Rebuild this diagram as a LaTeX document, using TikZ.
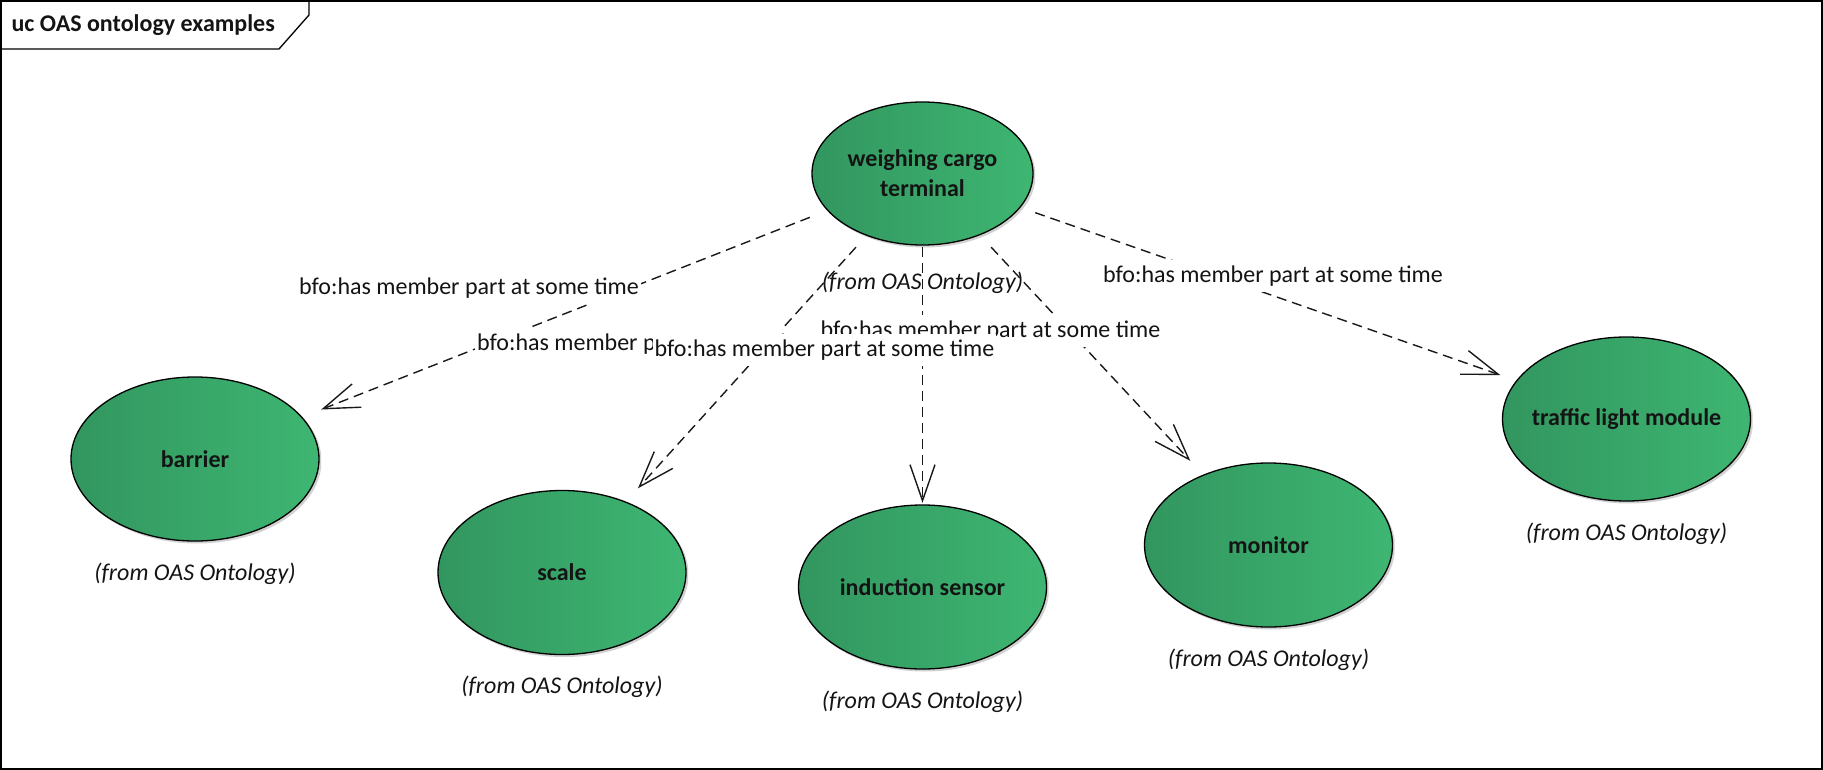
\documentclass[tikz,border=0pt]{standalone}
\usepackage{fontspec}
\setmainfont{Carlito}
\usetikzlibrary{arrows.meta,positioning}

\definecolor{ucdark}{RGB}{50,150,95}
\definecolor{uclight}{RGB}{62,182,114}
\definecolor{uctext}{RGB}{20,20,20}

\begin{document}
\begin{tikzpicture}[x=1pt, y=-1pt,
        usecase/.style 2 args={rectangle, fill=white, inner sep=0pt,
            minimum width=2*#1, minimum height=2*#2, align=center,
            font=\fontsize{24}{30}\selectfont\bfseries, text=uctext,
            path picture={
                \fill[black!18] ([shift={(2pt,-2pt)}]path picture bounding box.center)
                    ellipse [x radius=#1pt-1.5pt, y radius=#2pt-1.5pt];
                \shade[left color=ucdark, right color=uclight,
                    draw=black, line width=1.3pt]
                    (path picture bounding box.center)
                    ellipse [x radius=#1pt-2pt, y radius=#2pt-2pt];}},
        from/.style={font=\fontsize{24}{30}\selectfont\itshape, text=uctext,
            inner sep=0pt, text height=17pt, text depth=5pt},
        rel/.style={fill=white, font=\fontsize{24}{30}\selectfont, text=uctext,
            inner xsep=2pt, inner ysep=5pt, text height=17pt, text depth=5pt},
        dep/.style={draw=black!90, line width=1.4pt, dash pattern=on 10pt off 6pt,
            -{Straight Barb[length=36pt, width=25pt]}}
    ]
    \useasboundingbox (0,0) rectangle (1823,770);
    \draw[line width=1.3pt] (1,1) rectangle (1822,769);

    % frame tab
    \draw[line width=1.3pt] (0,49) -- (279,49) -- (309,15) -- (309,0);
    \node[anchor=west, font=\fontsize{24}{30}\selectfont\bfseries, text=uctext]
        (title) at (8,25) {uc OAS ontology examples};

    % use cases
    \node[usecase={112.5}{73.5}] (wct) at (922.5,173.5) {weighing cargo\\terminal};
    \node[usecase={126}{84}] (barrier)   at (195,459)    {barrier};
    \node[usecase={126}{84}] (scale)     at (562,572.5)  {scale};
    \node[usecase={126}{84}] (induction) at (922.5,587)  {induction sensor};
    \node[usecase={126}{84}] (monitor)   at (1268.5,545) {monitor};
    \node[usecase={126}{84}] (traffic)   at (1626.5,419) {traffic light module};

    \node[from, below=25pt of wct] (wct-from) {(from OAS Ontology)};
    \foreach \n in {barrier,scale,induction,monitor,traffic}
        \node[from, below=20pt of \n] (\n-from) {(from OAS Ontology)};

    % member parts
    \foreach \n in {barrier,scale,induction,monitor,traffic}
        \draw[dep] (wct) -- (\n);

    \node[rel] (part-scale)     at (647,344)  {bfo:has member part at some time};
    \node[rel] (part-barrier)   at (469,288)  {bfo:has member part at some time};
    \node[rel] (part-monitor)   at (990.5,331) {bfo:has member part at some time};
    \node[rel] (part-traffic)   at (1273,276) {bfo:has member part at some time};
    \node[rel] (part-induction) at (824.5,350) {bfo:has member part at some time};
\end{tikzpicture}
\end{document}
